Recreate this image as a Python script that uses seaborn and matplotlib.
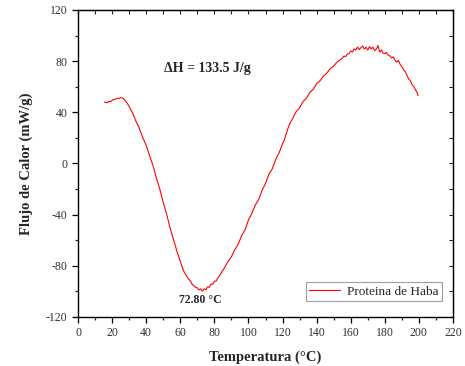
import matplotlib
matplotlib.use("Agg")
import matplotlib.pyplot as plt
import seaborn as sns
import pandas as pd
from matplotlib.ticker import MultipleLocator

temperatura = [15.5, 17, 18, 19, 20, 21, 22, 23, 24, 25, 26, 27, 28, 29, 30,
               32, 34, 36, 38, 40, 42, 44, 46, 48, 50, 52, 54, 56, 58, 60,
               61, 62, 63, 64, 65, 66, 67, 68, 69, 70, 71, 72, 73, 74, 75, 76, 77, 78, 79, 80, 81, 82, 83, 84,
               86, 88, 90, 92, 94, 96, 98, 100, 102, 104, 106, 108, 110, 112, 114, 116, 118, 120,
               121, 122, 123, 124,
               126, 128, 130, 132, 134, 136, 138, 140, 142, 144, 146, 148, 150, 152, 154,
               155, 156, 157, 158, 159, 160, 161, 162, 163, 164, 165, 166, 167, 168, 169, 170, 171, 172, 173,
               174, 175, 176, 177, 178, 179, 180, 181, 182, 183, 184, 185, 186, 187, 188, 189, 190, 191, 192,
               193, 194, 195, 196, 197, 198, 199, 199.5]
flujo = [48, 47.5, 48.6, 48.2, 49.4, 50.1, 50.3, 51.0, 50.8, 51.6, 51.2, 50.4, 48.5, 46.8, 44.5,
         39.5, 33.0, 27.4, 20.1, 14.3, 6.1, -1.6, -11.4, -20.1, -30.4, -39.6, -50.3, -59.2, -68.4, -76.6,
         -80.5, -84.0, -86.5, -88.5, -90.5, -92.0, -94.5, -95.5, -97.0, -97.2, -98.8, -98.0, -99.8, -98.0,
         -98.6, -96.5, -96.8, -94.2, -94.5, -92.0, -92.0, -89.5, -88.0, -85.5,
         -81.4, -76.6, -72.9, -67.4, -63.0, -56.4, -52.0, -44.1, -39.0, -32.5, -28.1, -21.0, -15.6, -8.4,
         -4.1, 3.2, 8.4, 15.6,
         18.0, 22.6, 26.8, 30.4,
         35.4, 40.6, 43.5, 48.5, 51.0, 55.6, 58.0, 62.5, 64.6, 68.4, 70.7, 74.3, 76.2, 79.3, 81.2,
         82.4, 84.0, 83.6, 85.4, 86.0, 88.0, 87.1, 89.6, 88.7, 91.0, 89.0, 90.6, 91.8, 89.5, 90.9, 88.7,
         91.4, 89.6, 91.0, 88.2, 89.4, 92.3, 87.1, 88.8, 86.2, 85.9, 86.8, 84.7, 84.1, 82.6, 83.4, 80.5,
         79.2, 80.6, 77.4, 75.8, 73.2, 72.0, 68.9, 66.1, 64.8, 61.4, 60.2, 57.6, 55.3, 53.0]
serie = ["Proteina de Haba"] * len(temperatura)

df = pd.DataFrame({"Temperatura": temperatura, "Flujo": flujo, "Serie": serie})

sns.set_style("white")
plt.rcParams['font.family'] = ['Liberation Serif', 'DejaVu Serif']
plt.rcParams['axes.unicode_minus'] = False

fig = plt.figure(figsize=(4.65, 3.66), dpi=100)
ax = fig.add_axes([78/465, 1-317/366, (453-78)/465, (317-10)/366])

sns.lineplot(data=df, x="Temperatura", y="Flujo", hue="Serie", palette=["#ff0000"],
             linewidth=0.8, ax=ax, sort=False, estimator=None)

ax.set_xlim(0, 220)
ax.set_ylim(-120, 120)
ax.xaxis.set_major_locator(MultipleLocator(20))
ax.xaxis.set_minor_locator(MultipleLocator(10))
ax.yaxis.set_major_locator(MultipleLocator(40))
ax.yaxis.set_minor_locator(MultipleLocator(20))

for s in ax.spines.values():
    s.set_color("black")
    s.set_linewidth(1.0)

ax.tick_params(axis="both", which="major", direction="out", length=4, width=0.9,
               labelsize=8.5, colors="black", labelcolor="#333333",
               bottom=True, left=True, top=False, right=False)
ax.tick_params(axis="both", which="minor", direction="out", length=2.5, width=0.9,
               bottom=True, left=True, top=False, right=False)
ax2 = ax.secondary_xaxis("top")
ax2.xaxis.set_major_locator(MultipleLocator(10))
ax2.tick_params(direction="in", length=3, labeltop=False)
ay2 = ax.secondary_yaxis("right")
ay2.yaxis.set_major_locator(MultipleLocator(20))
ay2.tick_params(direction="in", length=3, labelright=False)

ax.set_xlabel("Temperatura (°C)", fontsize=10.5, fontweight="bold", labelpad=8)
ax.set_ylabel("Flujo de Calor (mW/g)", fontsize=10.5, fontweight="bold", labelpad=9)

ax.text(76, 74.5, "ΔH = 133.5 J/g", fontsize=10, fontweight="bold", ha="center", va="center")
ax.text(71.5, -107, "72.80 °C", fontsize=8.5, fontweight="bold", ha="center", va="center")

leg = ax.legend(loc="lower right", bbox_to_anchor=((442-78)/375, (317-301)/307), frameon=True,
                fancybox=False, fontsize=9.5, handlelength=2.4, borderpad=0.25, handletextpad=0.5,
                borderaxespad=0.0)
leg.get_frame().set_edgecolor("#888888")
leg.get_frame().set_linewidth(0.8)

fig.savefig("out.png", dpi=100)
